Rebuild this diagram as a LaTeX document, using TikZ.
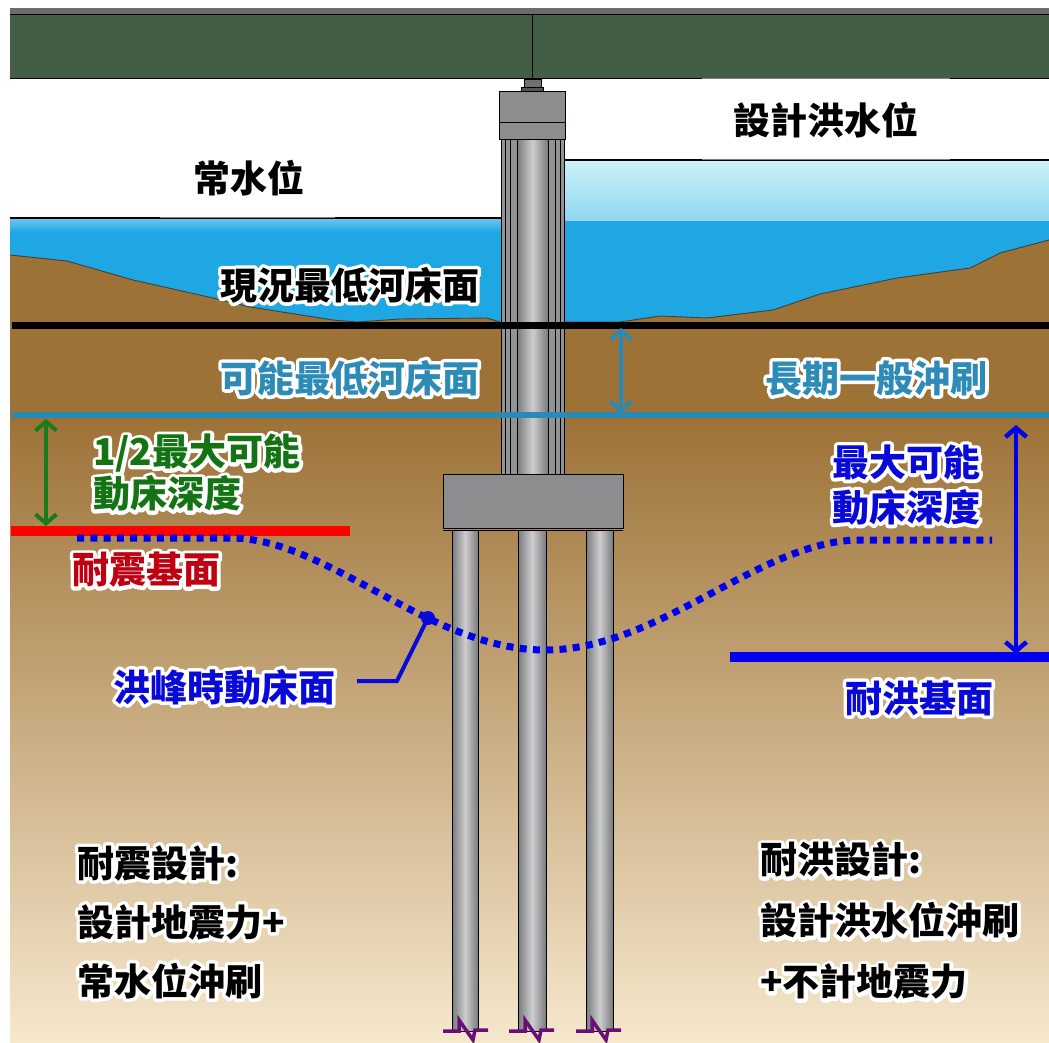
\documentclass[tikz,border=0pt]{standalone}
\usepackage{fontspec}
\usepackage{xcolor}
\usetikzlibrary{arrows.meta}
\IfFontExistsTF{Noto Sans CJK TC Black}
  {\newfontfamily\cjk{Noto Sans CJK TC Black}}
  {\newfontfamily\cjk{Noto Sans CJK TC}[UprightFont=* Bold, BoldFont=* Bold]}
\definecolor{deckgreen}{HTML}{435E45}
\definecolor{waterblue}{HTML}{1EA7E3}
\definecolor{floodtop}{HTML}{CCF2F7}
\definecolor{floodlow}{HTML}{90D7F1}
\definecolor{soil}{HTML}{9D7237}
\definecolor{soillight}{HTML}{F6E8CD}
\definecolor{steel}{HTML}{8C8D8F}
\definecolor{steeldark}{HTML}{7A7B7D}
\definecolor{steellight}{HTML}{CDCDCF}
\definecolor{scourblue}{HTML}{2B8AB5}
\definecolor{labelblue}{HTML}{2E8BB8}
\definecolor{depthgreen}{HTML}{147414}
\definecolor{arrowgreen}{HTML}{1B7A1B}
\definecolor{seisred}{HTML}{C00010}
\definecolor{floodblue}{HTML}{0A0AD8}
\definecolor{bedblue}{HTML}{0000EE}
\definecolor{breakpurple}{HTML}{6B0F78}
% white halo: a stroked white copy of the text behind the coloured text
\newcommand{\halo}[2]{%
  \makebox[0pt][l]{\textcolor{white}{\special{pdf:literal direct 7 w 1 j 2 Tr}#2\special{pdf:literal direct 0 Tr 1 w}}}%
  \textcolor{#1}{#2}}
\tikzset{
  lbl/.style={font=\cjk\fontsize{37}{44}\selectfont, inner sep=0pt, anchor=west},
  thinedge/.style={draw=black, line width=0.8},
  pile/.style={thinedge, left color=steeldark, right color=steeldark, middle color=steellight},
  dimarrow/.style={line width=4, {Straight Barb[length=9pt,width=21pt]}-{Straight Barb[length=9pt,width=21pt]}},
  breakmark/.style={draw=breakpurple, line width=3.5, line join=miter},
}
\begin{document}
\begin{tikzpicture}[x=1pt,y=-1pt]
\useasboundingbox (0,0) rectangle (1049,1043);
\fill[white] (0,0) rectangle (1049,1043);

% water at normal level (left) and at design flood level (right)
\fill[waterblue] (10,218) rectangle (502,335);
\fill[top color=floodlow!70!waterblue, bottom color=waterblue] (10,218) rectangle (502,232);
\fill[waterblue] (563,219) rectangle (1049,335);
\fill[top color=floodtop, bottom color=floodlow] (563,160) rectangle (1049,220);
\draw[line width=1.2] (10,218) -- (502,218);
\draw[line width=1.2] (563,160) -- (1049,160);
\draw[line width=1.6, gray] (160,217.5) -- (335,217.5);
\draw[line width=1.6, gray] (702,159.5) -- (950,159.5);

% river bed profile and soil
\fill[soil] (10,255) -- (67,261) -- (133,280) -- (213,298) -- (250,307) -- (333,320)
  -- (357,322) -- (400,319) -- (487,318) -- (500,322) -- (563,322) -- (620,322)
  -- (660,316) -- (707,318) -- (773,310) -- (820,294) -- (897,278) -- (970,268)
  -- (1000,253) -- (1049,240) -- (1049,1043) -- (10,1043) -- cycle;
\fill[top color=soil, bottom color=soillight] (10,418) rectangle (1049,1043);
\draw[line width=0.9, black!75] (10,255) -- (67,261) -- (133,280) -- (213,298) -- (250,307) -- (333,320)
  -- (357,322) -- (400,319) -- (487,318) -- (500,322);
\draw[line width=0.9, black!75] (563,322) -- (620,322)
  -- (660,316) -- (707,318) -- (773,310) -- (820,294) -- (897,278) -- (970,268)
  -- (1000,253) -- (1049,240);

% piles
\foreach \a/\b in {452/478, 518/546, 586/613}
  \path[pile] (\a,530) rectangle (\b,1031);

% pile cap
\path[thinedge, fill=steel] (443,474) rectangle (623,528);
\draw[line width=0.8] (443,530) -- (623,530);

% pier column
\path[thinedge, fill=steel!95!white] (501,139) rectangle (564,474);
\path[thinedge, left color=steeldark, right color=steeldark, middle color=steellight] (517,139) rectangle (548,474);
\foreach \x in {505,510,555,560}
  \draw[line width=0.8] (\x,139) -- (\x,474);

% pier cap and bearing
\path[thinedge, fill=steel] (499,91) rectangle (565,139);
\draw[line width=0.8] (499,122) -- (565,122);
\path[thinedge, fill=steel!80!black] (524,79) rectangle (541,88);
\path[thinedge, fill=steel!60!black] (521,87) rectangle (543,91);

% bridge deck
\fill[gray!85!black] (10,8) rectangle (1049,14);
\fill[deckgreen] (10,14) rectangle (1049,79);
\draw[line width=1.3] (10,14.5) -- (1049,14.5);
\draw[line width=1.3] (10,78.5) -- (1049,78.5);
\draw[line width=0.8] (532,15) -- (532,78);
\draw[line width=1.6, gray] (702,78.5) -- (950,78.5);

% bed levels
\draw[line width=7] (12,325) -- (1049,325);
\draw[scourblue, line width=6] (12,415) -- (1049,415);
\draw[red, line width=10] (11,531) -- (350,531);
\draw[bedblue, line width=10] (730,657) -- (1049,657);

% scour depth arrows
\coordinate (scourtop) at (621,328);
\coordinate (scourbot) at (621,413);
\draw[scourblue, dimarrow] (scourtop) -- (scourbot);
\coordinate (halftop) at (46,419);
\coordinate (halfbot) at (46,526);
\draw[arrowgreen, dimarrow] (halftop) -- (halfbot);
\coordinate (maxtop) at (1016,425);
\coordinate (maxbot) at (1016,654);
\draw[bedblue, dimarrow, line width=4.5] (maxtop) -- (maxbot);

% mobile bed surface at flood peak
\draw[bedblue, line width=7, dash pattern=on 7 off 6.3]
  (77,538) -- (233,538) .. controls (330,540) and (430,650) .. (545,650)
  .. controls (660,650) and (760,540) .. (860,540) -- (992,540);
\node[circle, fill=floodblue, inner sep=0pt, minimum size=14pt] (peakpt) at (428,618) {};
\coordinate (leadend) at (357,681);
\coordinate (leadknee) at (397,681);
\draw[floodblue, line width=4] (leadend) -- (leadknee) -- (peakpt.center);

% pile toe break marks
\foreach \x in {443,509,576}
  \draw[breakmark] (\x,1031) -- ++(16,0) -- ++(0,-11) -- ++(14,20) -- ++(2,-10) -- ++(13,0);

% labels
\node[lbl] (normal) at (193,178) {常水位};
\node[lbl] (flood) at (733,120) {設計洪水位};
\node[lbl] (curbed) at (220,285) {\halo{black}{現況最低河床面}};
\node[lbl] (minbed) at (220,378) {\halo{labelblue}{可能最低河床面}};
\node[lbl] (longscour) at (765,378) {\halo{labelblue}{長期一般沖刷}};
\node[lbl, align=left, font=\cjk\fontsize{37}{42}\selectfont] (halfdepth) at (93,473)
  {\halo{depthgreen}{1/2最大可能}\\\halo{depthgreen}{動床深度}};
\node[lbl] (seisbase) at (72,570) {\halo{seisred}{耐震基面}};
\node[lbl] (peakbed) at (113,687) {\halo{floodblue}{洪峰時動床面}};
\node[lbl, align=left, font=\cjk\fontsize{37}{45}\selectfont] (maxdepth) at (832,485)
  {\halo{floodblue}{最大可能}\\\halo{floodblue}{動床深度}};
\node[lbl] (floodbase) at (845,698) {\halo{floodblue}{耐洪基面}};
\node[lbl, align=left, font=\cjk\fontsize{37}{59}\selectfont] (seisdesign) at (77,922)
  {\halo{black}{耐震設計:}\\\halo{black}{設計地震力+}\\\halo{black}{常水位沖刷}};
\node[lbl, align=left, font=\cjk\fontsize{37}{61}\selectfont] (flooddesign) at (760,921)
  {\halo{black}{耐洪設計:}\\\halo{black}{設計洪水位沖刷}\\\halo{black}{+不計地震力}};
\end{tikzpicture}
\end{document}
